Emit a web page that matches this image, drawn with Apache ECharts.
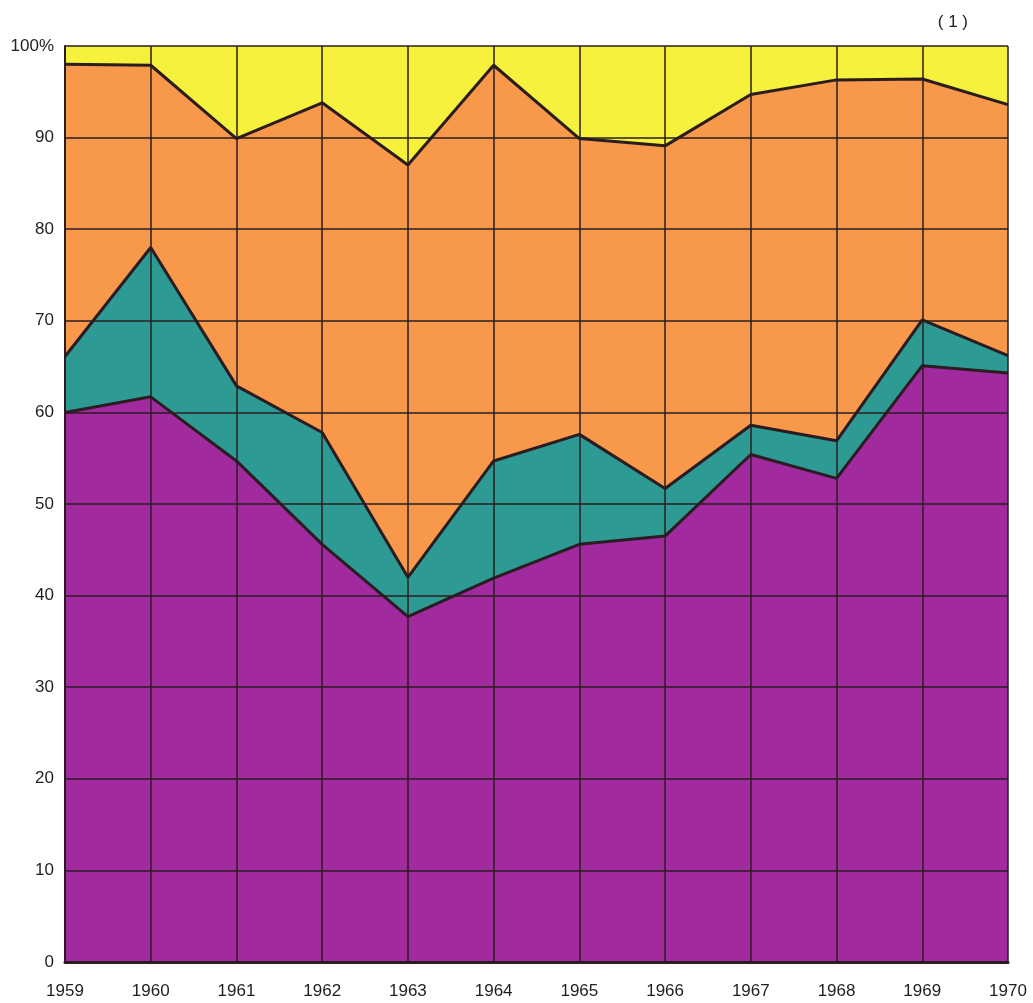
<!DOCTYPE html>
<html lang="en">
<head>
    <meta charset="UTF-8">
    <title>Shares 1959-1970</title>
    <style>
        html, body { margin: 0; padding: 0; background: #ffffff; }
        #chart_area { width: 1033px; height: 1003px; }
    </style>
</head>
<body>
<div id="chart_area"></div>
<script src="https://cdn.jsdelivr.net/npm/echarts@6/dist/echarts.min.js"></script>
<script>
    var years = ['1959', '1960', '1961', '1962', '1963', '1964', '1965', '1966', '1967', '1968', '1969', '1970'];
    // share of each layer, percent (bottom to top)
    var purpleShare = [60.0, 61.7, 54.7, 45.6, 37.7, 41.9, 45.6, 46.5, 55.4, 52.8, 65.1, 64.3];
    var tealShare   = [6.1, 16.3, 8.2, 12.2, 4.3, 12.8, 12.0, 5.2, 3.2, 4.1, 5.0, 1.9];
    var orangeShare = [31.9, 19.9, 27.0, 36.0, 45.0, 43.2, 32.3, 37.4, 36.1, 39.4, 26.3, 27.4];
    var yellowShare = [2.0, 2.1, 10.1, 6.2, 13.0, 2.1, 10.1, 10.9, 5.3, 3.7, 3.6, 6.4];

    var edge = '#2a1c20';

    function layer(name, values, fill, lineWidth) {
        return {
            name: name,
            type: 'line',
            stack: 'total',
            data: values,
            symbol: 'none',
            smooth: false,
            lineStyle: { color: edge, width: lineWidth },
            areaStyle: { color: fill, opacity: 1 },
            z: 2
        };
    }

    var myChart = echarts.init(document.getElementById('chart_area'));
    myChart.setOption({
        animation: false,
        backgroundColor: '#ffffff',
        title: {
            text: '( 1 )',
            right: 60,
            top: 9,
            textStyle: { color: '#222', fontSize: 17, fontWeight: 'normal', fontFamily: 'Liberation Sans' }
        },
        grid: { left: 65, right: 25, top: 46, bottom: 41 },
        xAxis: {
            type: 'category',
            data: years,
            boundaryGap: false,
            z: 10,
            axisLine: { show: true, lineStyle: { color: edge, width: 3 } },
            axisTick: { show: false },
            axisLabel: { color: '#1e1e1e', fontSize: 17, margin: 21, fontFamily: 'Liberation Sans', interval: 0 },
            splitLine: { show: true, interval: 0, lineStyle: { color: edge, width: 1.5 } }
        },
        yAxis: {
            type: 'value',
            min: 0,
            max: 100,
            interval: 10,
            z: 10,
            axisLine: { show: true, lineStyle: { color: edge, width: 2 } },
            axisTick: { show: false },
            axisLabel: {
                color: '#1e1e1e', fontSize: 17, margin: 11, fontFamily: 'Liberation Sans',
                formatter: function (v) { return v === 100 ? '100%' : v; }
            },
            splitLine: { show: true, lineStyle: { color: edge, width: 1.5 } }
        },
        series: [
            layer('purple', purpleShare, '#a02a9e', 3),
            layer('teal', tealShare, '#2e9a94', 3),
            layer('orange', orangeShare, '#f7984a', 3),
            layer('yellow', yellowShare, '#f6f13c', 0)
        ]
    });
</script>
</body>
</html>
